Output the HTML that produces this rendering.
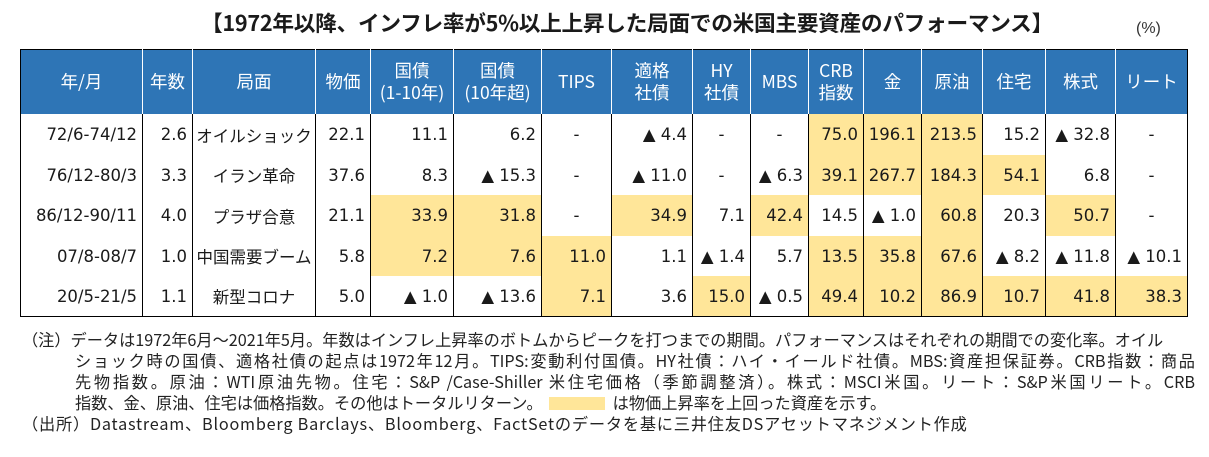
<!DOCTYPE html>
<html><head><meta charset="utf-8">
<style>
html,body{margin:0;padding:0;background:#fff;}
body{width:1209px;height:457px;position:relative;overflow:hidden;font-family:"Liberation Sans","Noto Sans CJK JP",sans-serif;color:#1a1a1a;}
.title{position:absolute;left:0;width:1254px;top:7px;text-align:center;font-size:21.7px;font-weight:bold;letter-spacing:-0.3px;font-family:"Noto Sans CJK JP",sans-serif;white-space:nowrap;}
.pct{position:absolute;left:1136px;top:20px;font-size:16px;color:#333;}
table{position:absolute;left:20px;top:49px;border-collapse:collapse;table-layout:fixed;width:1167px;border:1.5px solid #000;}
th{background:#2E75B6;color:#fff;font-weight:normal;font-size:17.5px;line-height:22px;height:64px;padding:0;border-left:1.5px solid #fff;text-align:center;font-family:"Noto Sans CJK JP",sans-serif;}
th:first-child{border-left:none;}
td{font-size:16.5px;font-family:"DejaVu Sans","Noto Sans CJK JP",sans-serif;height:40px;padding:0 5px 0 0;text-align:right;border-left:1.5px solid #000;white-space:nowrap;overflow:hidden;}
td.c{text-align:center;padding:0;}
td.j{font-family:"Noto Sans CJK JP",sans-serif;font-size:16.5px;}
.y{background:#FFE699;}
.notes{position:absolute;left:22px;top:329px;font-size:16.2px;line-height:21px;color:#222;font-family:"Noto Sans CJK JP",sans-serif;}
.notes div{white-space:nowrap;}
.ind{margin-left:53px;}
.jus{width:1120px;white-space:normal !important;text-align:justify;text-align-last:justify;height:21px;overflow:hidden;}
.box{display:inline-block;width:56px;height:13px;background:#FFE699;vertical-align:-1px;margin:0 8px 0 6px;}
</style></head><body>
<div class="title">【1972年以降、インフレ率が5%以上上昇した局面での米国主要資産のパフォーマンス】</div>
<div class="pct">(%)</div>
<table>
<colgroup>
<col style="width:122px"><col style="width:50px"><col style="width:123px"><col style="width:55px"><col style="width:83px"><col style="width:88px"><col style="width:70px"><col style="width:81px"><col style="width:58px"><col style="width:58px"><col style="width:55px"><col style="width:58px"><col style="width:61px"><col style="width:63px"><col style="width:70px"><col style="width:72px">
</colgroup>
<tr><th>年/月</th><th>年数</th><th>局面</th><th>物価</th><th>国債<br>(1-10年)</th><th>国債<br>(10年超)</th><th>TIPS</th><th>適格<br>社債</th><th>HY<br>社債</th><th>MBS</th><th>CRB<br>指数</th><th>金</th><th>原油</th><th>住宅</th><th>株式</th><th>リート</th></tr>
<tr style="height:41px"><td>72/6-74/12</td><td>2.6</td><td class="c j">オイルショック</td><td>22.1</td><td>11.1</td><td>6.2</td><td class="c">-</td><td>▲ 4.4</td><td class="c">-</td><td class="c">-</td><td class="y">75.0</td><td class="y">196.1</td><td class="y">213.5</td><td>15.2</td><td>▲ 32.8</td><td class="c">-</td></tr>
<tr><td>76/12-80/3</td><td>3.3</td><td class="c j">イラン革命</td><td>37.6</td><td>8.3</td><td>▲ 15.3</td><td class="c">-</td><td>▲ 11.0</td><td class="c">-</td><td>▲ 6.3</td><td class="y">39.1</td><td class="y">267.7</td><td class="y">184.3</td><td class="y">54.1</td><td>6.8</td><td class="c">-</td></tr>
<tr style="height:41px"><td>86/12-90/11</td><td>4.0</td><td class="c j">プラザ合意</td><td>21.1</td><td class="y">33.9</td><td class="y">31.8</td><td class="c">-</td><td class="y">34.9</td><td>7.1</td><td class="y">42.4</td><td>14.5</td><td>▲ 1.0</td><td class="y">60.8</td><td>20.3</td><td class="y">50.7</td><td class="c">-</td></tr>
<tr><td>07/8-08/7</td><td>1.0</td><td class="c j">中国需要ブーム</td><td>5.8</td><td class="y">7.2</td><td class="y">7.6</td><td class="y">11.0</td><td>1.1</td><td>▲ 1.4</td><td>5.7</td><td class="y">13.5</td><td class="y">35.8</td><td class="y">67.6</td><td>▲ 8.2</td><td>▲ 11.8</td><td>▲ 10.1</td></tr>
<tr><td>20/5-21/5</td><td>1.1</td><td class="c j">新型コロナ</td><td>5.0</td><td>▲ 1.0</td><td>▲ 13.6</td><td class="y">7.1</td><td>3.6</td><td class="y">15.0</td><td>▲ 0.5</td><td class="y">49.4</td><td class="y">10.2</td><td class="y">86.9</td><td class="y">10.7</td><td class="y">41.8</td><td class="y">38.3</td></tr>
</table>
<div class="notes">
<div>（注）データは1972年6月～2021年5月。年数はインフレ上昇率のボトムからピークを打つまでの期間。パフォーマンスはそれぞれの期間での変化率。オイル</div>
<div class="ind jus">ショック時の国債、適格社債の起点は1972年12月。TIPS:変動利付国債。HY社債：ハイ・イールド社債。MBS:資産担保証券。CRB指数：商品</div>
<div class="ind jus">先物指数。原油：WTI原油先物。住宅：S&amp;P /Case-Shiller 米住宅価格（季節調整済）。株式：MSCI米国。リート：S&amp;P米国リート。CRB</div>
<div class="ind">指数、金、原油、住宅は価格指数。その他はトータルリターン。<span class="box"></span>は物価上昇率を上回った資産を示す。</div>
<div style="letter-spacing:0.8px">（出所）Datastream、Bloomberg Barclays、Bloomberg、FactSetのデータを基に三井住友DSアセットマネジメント作成</div>
</div>
</body></html>
